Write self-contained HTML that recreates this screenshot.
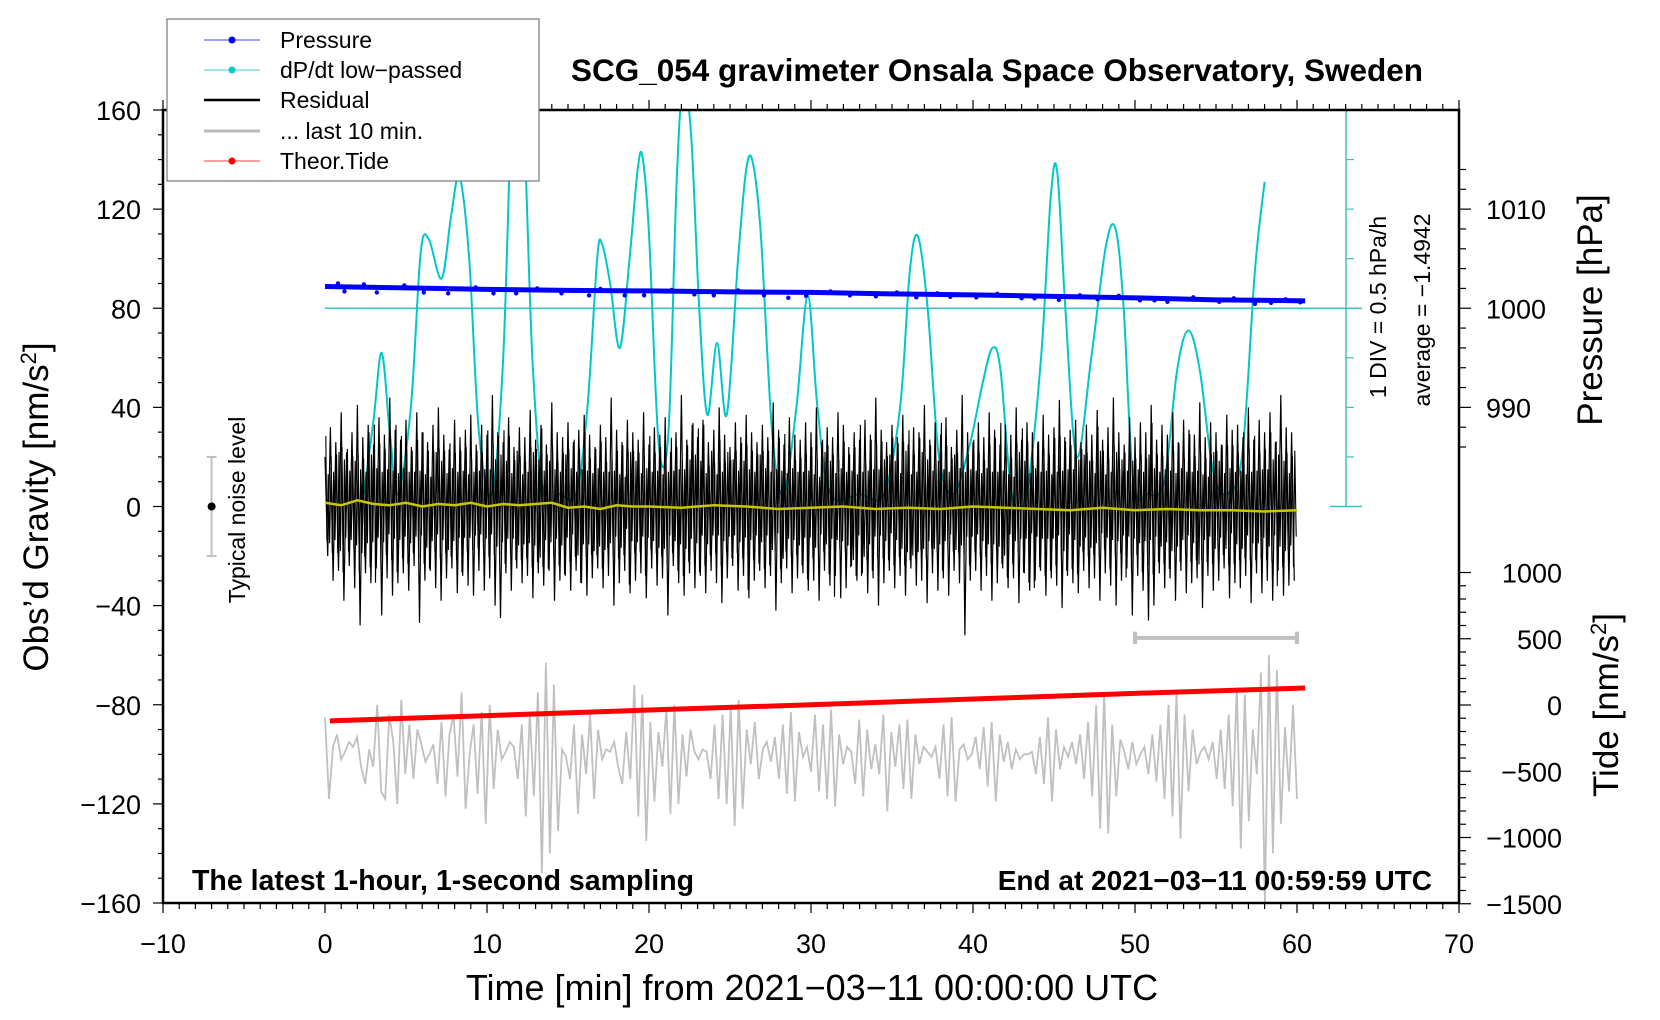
<!DOCTYPE html>
<html><head><meta charset="utf-8"><style>
html,body{margin:0;padding:0;background:#fff}
svg{display:block}
text{font-family:"Liberation Sans",sans-serif}
</style></head><body>
<svg id="chart" width="1660" height="1020" viewBox="0 0 1660 1020" xmlns="http://www.w3.org/2000/svg">
<rect x="0" y="0" width="1660" height="1020" fill="#fff"/>
<g id="series"></g>
<g id="axes"></g>
<text x="997" y="81" text-anchor="middle" font-size="31.5" font-weight="bold">SCG_054 gravimeter Onsala Space Observatory, Sweden</text>
<text x="812" y="1000" text-anchor="middle" font-size="36">Time [min] from 2021−03−11 00:00:00 UTC</text>
<text transform="translate(48,507) rotate(-90)" text-anchor="middle" font-size="35">Obs’d Gravity [nm/s<tspan font-size="22" dy="-12">2</tspan><tspan dy="12">]</tspan></text>
<text transform="translate(1602,310) rotate(-90)" text-anchor="middle" font-size="35">Pressure [hPa]</text>
<text transform="translate(1618,705) rotate(-90)" text-anchor="middle" font-size="35">Tide [nm/s<tspan font-size="22" dy="-12">2</tspan><tspan dy="12">]</tspan></text>
<text transform="translate(1386,307) rotate(-90)" text-anchor="middle" font-size="23">1 DIV = 0.5 hPa/h</text>
<text transform="translate(1430,310) rotate(-90)" text-anchor="middle" font-size="23">average = −1.4942</text>
<text transform="translate(245,510) rotate(-90)" text-anchor="middle" font-size="23">Typical noise level</text>
<text x="192" y="890" font-size="28.5" font-weight="bold">The latest 1-hour, 1-second sampling</text>
<text x="1432" y="890" text-anchor="end" font-size="28" font-weight="bold">End at 2021−03−11 00:59:59 UTC</text>
<g>
<rect x="167" y="19" width="372" height="162" fill="#fff" stroke="#777" stroke-width="1.2"/>
<g><line x1="204" y1="40" x2="260" y2="40" stroke="#4040ff" stroke-width="1"/><circle cx="232" cy="40" r="3.5" fill="#00f"/><text x="280" y="48" font-size="23">Pressure</text></g>
<g><line x1="204" y1="70" x2="260" y2="70" stroke="#40d0d0" stroke-width="1"/><circle cx="232" cy="70" r="3.5" fill="#00cccc"/><text x="280" y="78" font-size="23">dP/dt low−passed</text></g>
<g><line x1="204" y1="100" x2="260" y2="100" stroke="#000" stroke-width="2.5"/><text x="280" y="108" font-size="23">Residual</text></g>
<g><line x1="204" y1="131" x2="260" y2="131" stroke="#bbb" stroke-width="3"/><text x="280" y="139" font-size="23">... last 10 min.</text></g>
<g><line x1="204" y1="161" x2="260" y2="161" stroke="#ff4040" stroke-width="1"/><circle cx="232" cy="161" r="3.5" fill="#f00"/><text x="280" y="169" font-size="23">Theor.Tide</text></g>
</g>
</svg>
<script>
// ---- data ----
const xTicks = [-10,0,10,20,30,40,50,60,70];
const yTicks = [-160,-120,-80,-40,0,40,80,120,160];
const pressureTicks = [990,1000,1010];
const tideTicks = [-1500,-1000,-500,0,500,1000];
const cyanT = [2.4,3.0,3.5,4.0,4.5,5.3,5.9,6.4,7.2,7.8,8.3,8.9,9.5,10.3,11.0,11.6,12.2,12.8,13.5,14.5,15.5,16.2,16.8,17.1,17.6,18.2,18.8,19.3,19.6,20.0,20.6,21.2,21.7,22.1,22.6,23.1,23.6,24.2,24.8,25.5,26.0,26.4,26.9,27.6,28.3,29.1,29.8,30.4,31.2,33.0,34.5,35.5,36.1,36.6,37.2,37.9,38.8,39.8,40.6,41.2,41.7,42.4,43.3,44.2,44.8,45.2,45.7,46.4,47.3,48.2,48.8,49.3,49.9,50.8,51.8,52.6,53.3,54.0,54.8,55.6,56.6,57.4,58.0];
const cyanV = [5,35,62,30,5,40,102,108,92,118,133,100,30,5,60,170,165,60,5,5,5,40,100,106,90,64,100,136,141,110,25,30,130,170,150,80,37,66,37,100,136,139,110,30,5,40,85,40,5,5,5,40,95,109,80,20,5,25,50,64,55,5,5,60,125,135,80,20,60,105,112,80,10,5,10,55,71,55,15,5,20,95,131];
const pressT = [0,5,10,15,20,25,30,35,40,45,50,55,60.5];
const pressV = [1002.2,1002.05,1001.9,1001.8,1001.75,1001.65,1001.6,1001.45,1001.35,1001.2,1001.05,1000.85,1000.75];
const pressOutT = [0.8,1.2,2.4,3.2,4.9,6.1,7.6,9.3,10.4,11.8,13.1,14.6,16.3,17.0,18.5,19.7,21.4,22.8,24.0,25.5,27.1,28.6,29.7,31.2,32.4,34.0,35.3,36.5,37.8,38.6,40.2,41.5,43.0,43.8,45.3,46.6,47.7,49.0,50.3,51.2,52.0,53.6,55.2,56.1,57.4,58.4,59.3,60.2];
const pressOutV = [1002.5,1001.7,1002.4,1001.6,1002.3,1001.6,1001.5,1002.1,1001.5,1001.5,1002.0,1001.5,1001.3,1001.95,1001.3,1001.3,1001.85,1001.4,1001.3,1001.8,1001.3,1001.05,1001.25,1001.7,1001.3,1001.2,1001.6,1001.1,1001.5,1001.15,1001.1,1001.45,1001.0,1001.0,1000.85,1001.3,1000.9,1001.25,1000.8,1000.8,1000.65,1001.1,1000.65,1001.0,1000.45,1000.55,1000.9,1000.6];
const tideT = [0.3,10,20,30,40,50,60.5];
const tideV = [-120,-80,-38,2,45,88,128];
const yellowT = [0,1,2,3,4,5,6,7,8,9,10,11,12,13,14,15,16,17,18,19,20,22,24,26,28,30,32,34,36,38,40,42,44,46,48,50,52,54,56,58,60];
const yellowV = [1.5,0.5,2.5,1,0.5,1.5,0,1,0.5,1.5,0,1,0.5,1,1.5,-0.5,0,-1,0.5,0,0,-0.5,0.5,0,-1,-0.5,0,-1,-0.5,-1,0,-0.5,-1,-1.5,-0.5,-1.5,-1,-1.5,-1.5,-2,-1.5];
const resHi = [20,32,26,38,22,30,41,28,33,25,36,29,44,31,27,35,24,38,30,26,33,40,29,23,35,28,31,37,25,33,29,45,30,26,36,24,32,28,39,27,33,25,42,30,28,34,26,31,37,29,24,33,28,44,31,26,35,30,27,38,25,32,29,36,22,30,45,27,33,28,35,26,31,40,29,24,34,28,37,30,26,33,28,42,31,25,36,29,27,34,30,40,26,32,28,38,33,24,30,27,35,29,44,31,26,33,28,37,25,32,30,41,27,34,29,36,24,31,45,30,26,34,28,38,31,25,33,29,40,27,34,30,26,37,29,32,43,28,31,35,26,33,29,39,27,32,44,30,25,36,28,34,30,41,27,33,29,38,26,35,31,29,42,28,34,30,25,37,31,33,28,40,27,35,30,38,26,45,32,30];
const resLo = [-20,-30,-26,-38,-24,-33,-48,-27,-31,-25,-44,-29,-36,-31,-27,-34,-24,-47,-30,-26,-33,-38,-29,-25,-35,-28,-32,-36,-26,-34,-29,-40,-45,-27,-34,-25,-31,-28,-37,-27,-32,-26,-38,-30,-28,-34,-26,-31,-36,-29,-25,-33,-28,-40,-31,-26,-35,-30,-27,-37,-25,-32,-29,-44,-24,-31,-36,-27,-33,-28,-35,-26,-31,-39,-29,-24,-34,-28,-37,-30,-26,-33,-28,-42,-31,-25,-35,-29,-27,-34,-30,-38,-26,-32,-28,-37,-33,-24,-30,-27,-35,-29,-40,-31,-26,-33,-28,-36,-25,-32,-30,-39,-27,-34,-29,-36,-26,-31,-52,-30,-26,-34,-28,-38,-31,-25,-33,-29,-39,-27,-34,-30,-26,-36,-29,-32,-41,-28,-31,-35,-26,-33,-29,-38,-27,-32,-40,-30,-25,-44,-28,-34,-46,-40,-27,-33,-29,-38,-26,-35,-31,-29,-41,-28,-34,-30,-25,-37,-31,-33,-28,-39,-27,-35,-30,-38,-26,-36,-32,-30];
const grayV = [-85,-118,-97,-92,-102,-99,-95,-97,-93,-105,-112,-98,-105,-80,-115,-118,-84,-95,-120,-78,-108,-88,-110,-90,-96,-103,-100,-96,-112,-87,-117,-92,-84,-109,-75,-122,-100,-88,-116,-83,-128,-80,-114,-90,-102,-99,-95,-97,-110,-88,-125,-83,-117,-75,-148,-63,-140,-72,-131,-98,-101,-110,-88,-124,-92,-108,-84,-118,-90,-102,-98,-99,-95,-105,-112,-91,-110,-72,-125,-76,-135,-87,-119,-91,-105,-81,-124,-80,-120,-92,-109,-90,-99,-102,-98,-99,-110,-88,-118,-84,-120,-81,-129,-78,-122,-90,-104,-87,-110,-98,-95,-103,-93,-110,-88,-116,-83,-119,-91,-101,-97,-107,-84,-115,-88,-118,-82,-121,-92,-104,-97,-99,-112,-86,-117,-90,-106,-96,-108,-84,-123,-91,-105,-88,-114,-86,-118,-92,-104,-97,-99,-101,-97,-110,-88,-117,-85,-119,-98,-96,-102,-100,-93,-106,-89,-113,-87,-119,-92,-103,-95,-106,-98,-102,-100,-100,-99,-108,-93,-112,-85,-119,-90,-106,-97,-101,-95,-104,-92,-110,-87,-117,-80,-130,-75,-132,-88,-117,-94,-99,-106,-95,-104,-100,-97,-108,-92,-111,-88,-118,-80,-125,-75,-134,-84,-115,-90,-104,-99,-97,-102,-95,-110,-90,-114,-84,-121,-73,-138,-76,-127,-90,-108,-67,-160,-60,-140,-66,-128,-89,-115,-80,-118];
// ---- scales ----
const X = t => 163 + (t + 10) * (1459 - 163) / 80;
const Y = g => 110 + (160 - g) * (903 - 110) / 320;
const P = p => Y(80 + (p - 1000) * 4);
const TD = v => 705 - v * 0.1325;
const NS = "http://www.w3.org/2000/svg";
const series = document.getElementById('series');
const axes = document.getElementById('axes');
function mk(tag, attrs, parent){
  const e = document.createElementNS(NS, tag);
  for (const k in attrs) e.setAttribute(k, attrs[k]);
  (parent||series).appendChild(e);
  return e;
}
const defs = mk('defs',{});
const cp = mk('clipPath',{id:'plotclip'},defs);
mk('rect',{x:163,y:110,width:1296,height:793},cp);
function smooth(pts){
  let d = `M${pts[0][0]},${pts[0][1]}`;
  for (let i=0;i<pts.length-1;i++){
    const p0=pts[Math.max(0,i-1)],p1=pts[i],p2=pts[i+1],p3=pts[Math.min(pts.length-1,i+2)];
    const c1x=p1[0]+(p2[0]-p0[0])/6,c1y=p1[1]+(p2[1]-p0[1])/6;
    const c2x=p2[0]-(p3[0]-p1[0])/6,c2y=p2[1]-(p3[1]-p1[1])/6;
    d+=` C${c1x},${c1y} ${c2x},${c2y} ${p2[0]},${p2[1]}`;
  }
  return d;
}
const zl = mk('line',{x1:X(0),y1:Y(80),x2:1362,y2:Y(80),stroke:'#40c0c0','stroke-width':1.5});


const cy = mk('path',{d:smooth(cyanT.map((t,i)=>[X(t),Y(cyanV[i])])),fill:'none',stroke:'#00c8c8','stroke-width':2,'clip-path':'url(#plotclip)'});


// residual
const n = resHi.length, w = 60/n;
let rp = [];
for (let i=0;i<n;i++){ rp.push(`${X(i*w).toFixed(1)},${Y(resHi[i]).toFixed(1)}`); rp.push(`${X(i*w+w/2).toFixed(1)},${Y(resLo[i]).toFixed(1)}`); }
const res = mk('polyline',{points:rp.join(' '),fill:'none',stroke:'#000','stroke-width':1.2});


let rp2 = [];
for (let i=0;i<n;i++){
  const a = resLo[(i*7)%n]*0.7, b = resHi[(i*11+3)%n]*0.75, c = resLo[(i*13+5)%n]*0.45, d = resHi[(i*5+2)%n]*0.5;
  rp2.push(`${X(i*w+w*0.15).toFixed(1)},${Y(b).toFixed(1)}`);
  rp2.push(`${X(i*w+w*0.35).toFixed(1)},${Y(a).toFixed(1)}`);
  rp2.push(`${X(i*w+w*0.6).toFixed(1)},${Y(d).toFixed(1)}`);
  rp2.push(`${X(i*w+w*0.85).toFixed(1)},${Y(c).toFixed(1)}`);
}
const res2 = mk('polyline',{points:rp2.join(' '),fill:'none',stroke:'#000','stroke-width':1.1});


const yl = mk('polyline',{points:yellowT.map((t,i)=>`${X(t)},${Y(yellowV[i])}`).join(' '),fill:'none',stroke:'#c8c800','stroke-width':2.5});


// pressure
const pl = mk('polyline',{points:pressT.map((t,i)=>`${X(t)},${P(pressV[i])}`).join(' '),fill:'none',stroke:'#0000ff','stroke-width':5});


pressOutT.forEach((t,i)=>{
  const c = mk('circle',{cx:X(t),cy:P(pressOutV[i]),r:2.2,fill:'#00f'});
  
  
});
// gray last 10 min
const gw = 60/(grayV.length-1);
const gl = mk('polyline',{points:grayV.map((v,i)=>`${X(i*gw).toFixed(1)},${Y(v).toFixed(1)}`).join(' '),fill:'none',stroke:'#c0c0c0','stroke-width':1.8});


const tl = mk('polyline',{points:tideT.map((t,i)=>`${X(t)},${TD(tideV[i])}`).join(' '),fill:'none',stroke:'#ff0000','stroke-width':5});


const bar = mk('g',{});


mk('line',{x1:X(50),y1:Y(-53),x2:X(60),y2:Y(-53),stroke:'#c0c0c0','stroke-width':4},bar);
mk('line',{x1:X(50),y1:Y(-50.5),x2:X(50),y2:Y(-55.5),stroke:'#c0c0c0','stroke-width':4},bar);
mk('line',{x1:X(60),y1:Y(-50.5),x2:X(60),y2:Y(-55.5),stroke:'#c0c0c0','stroke-width':4},bar);
const nz = mk('g',{});


mk('line',{x1:X(-7),y1:Y(20),x2:X(-7),y2:Y(-20),stroke:'#c0c0c0','stroke-width':2},nz);
mk('line',{x1:X(-7)-5,y1:Y(20),x2:X(-7)+5,y2:Y(20),stroke:'#c0c0c0','stroke-width':2},nz);
mk('line',{x1:X(-7)-5,y1:Y(-20),x2:X(-7)+5,y2:Y(-20),stroke:'#c0c0c0','stroke-width':2},nz);
mk('circle',{cx:X(-7),cy:Y(0),r:4,fill:'#000'},nz);
const ca = mk('g',{});


mk('line',{x1:1346,y1:Y(160),x2:1346,y2:Y(0),stroke:'#40c0c0','stroke-width':1.5},ca);
mk('line',{x1:1330,y1:Y(160),x2:1362,y2:Y(160),stroke:'#40c0c0','stroke-width':1.5},ca);
mk('line',{x1:1330,y1:Y(0),x2:1362,y2:Y(0),stroke:'#40c0c0','stroke-width':1.5},ca);
for (let g=20; g<160; g+=20) mk('line',{x1:1346,y1:Y(g),x2:1354,y2:Y(g),stroke:'#40c0c0','stroke-width':1.2},ca);
// axes
const fr = mk('rect',{x:163,y:110,width:1296,height:793,fill:'none',stroke:'#000','stroke-width':2.5},axes);


for (let t=-10;t<=70;t+=1){
  const maj = t%10===0, L = maj?10:6;
  mk('line',{x1:X(t),y1:903,x2:X(t),y2:903+L,stroke:'#000','stroke-width':1.2},axes);
  mk('line',{x1:X(t),y1:110,x2:X(t),y2:110-L,stroke:'#000','stroke-width':1.2},axes);
}
xTicks.forEach(t=>{
  const e = mk('text',{x:X(t),y:953,'text-anchor':'middle','font-size':27},axes);
  e.textContent = String(t).replace('-','−');
  
  
});
for (let g=-160; g<=160; g+=10){
  const maj = g%40===0;
  mk('line',{x1:163,y1:Y(g),x2:163-(maj?10:5),y2:Y(g),stroke:'#000','stroke-width':1.2},axes);
}
yTicks.forEach(g=>{
  const e = mk('text',{x:141,y:Y(g)+10,'text-anchor':'end','font-size':27},axes);
  e.textContent = String(g).replace('-','−');
  
  
});
for (let p=986; p<=1014; p+=2){
  const maj = p%10===0;
  if (P(p) < 110) continue;
  mk('line',{x1:1459,y1:P(p),x2:1459+(maj?12:7),y2:P(p),stroke:'#000','stroke-width':1.2},axes);
}
pressureTicks.forEach(p=>{
  const e = mk('text',{x:1486,y:P(p)+10,'font-size':27},axes);
  e.textContent = String(p);
  
  
});
for (let v=-1500; v<=1000; v+=100){
  const maj = v%500===0;
  mk('line',{x1:1459,y1:TD(v),x2:1459+(maj?12:7),y2:TD(v),stroke:'#000','stroke-width':1.2},axes);
}
tideTicks.forEach(v=>{
  const e = mk('text',{x:1562,y:TD(v)+10,'text-anchor':'end','font-size':27},axes);
  e.textContent = String(v).replace('-','−');
  
  
});
</script>
</body></html>
